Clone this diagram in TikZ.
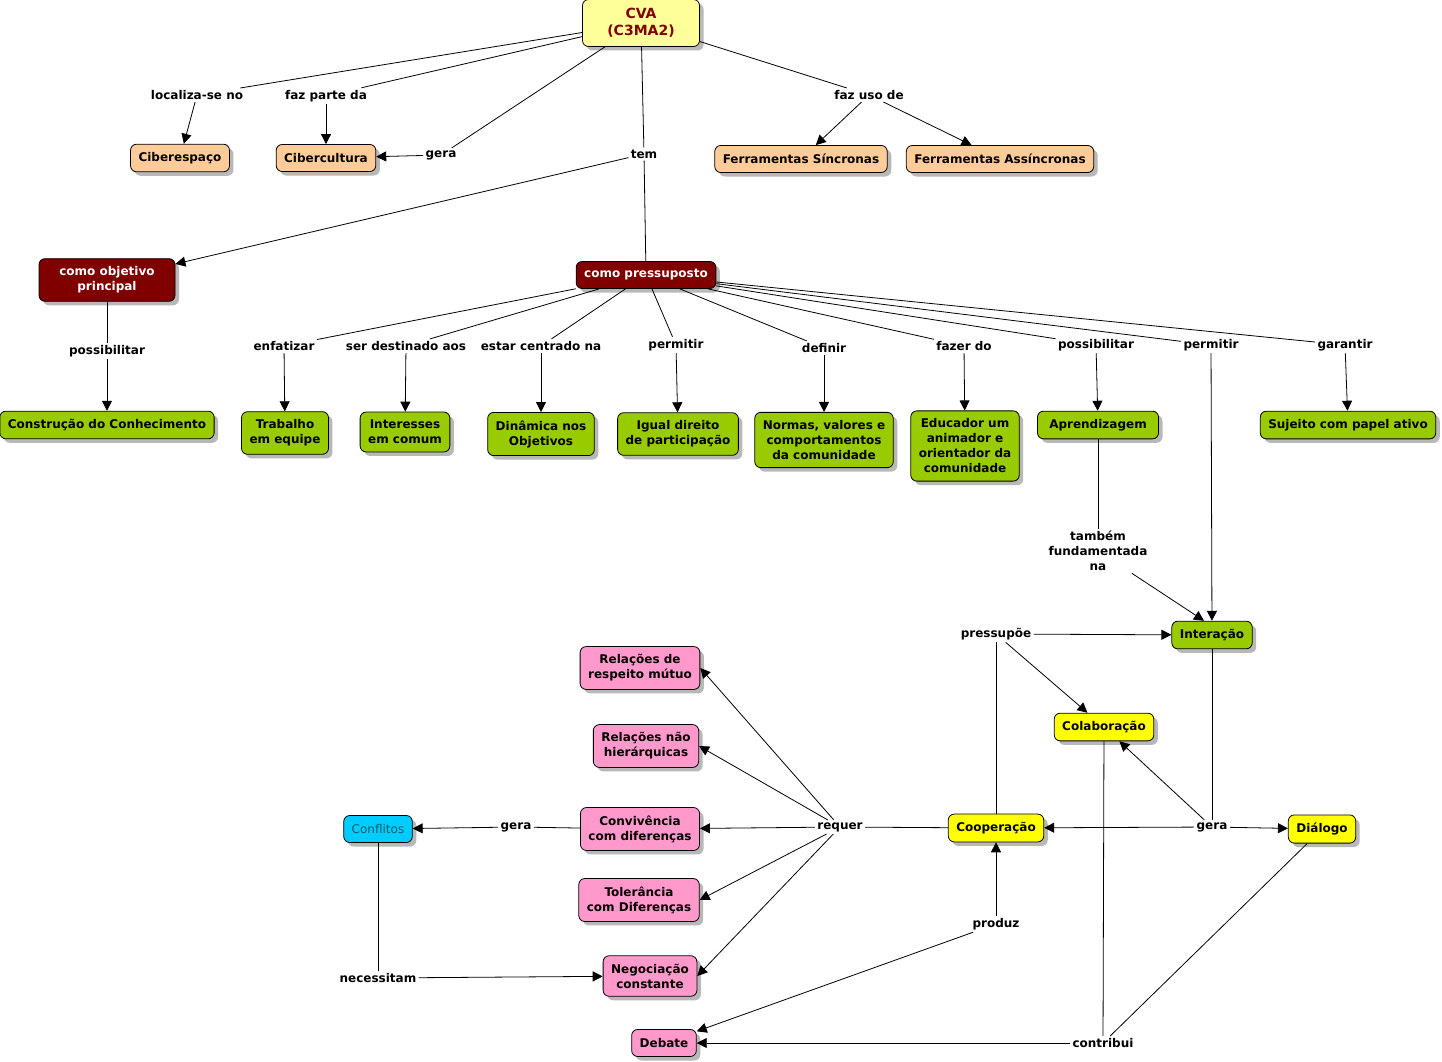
\documentclass[tikz,border=0pt]{standalone}
\usepackage{fontspec}
\setmainfont{DejaVu Sans}
\usetikzlibrary{arrows.meta,shadows}

\definecolor{cvafill}{HTML}{FFFF99}
\definecolor{darkred}{HTML}{800000}
\definecolor{peach}{HTML}{FFCC99}
\definecolor{leaf}{HTML}{99CC00}
\definecolor{lemon}{HTML}{FFFF00}
\definecolor{rosa}{HTML}{FF99CC}
\definecolor{ciano}{HTML}{00CCFF}
\definecolor{petrol}{HTML}{0A5F68}

\tikzset{
	concept/.style={draw, rounded corners=6pt, align=center, inner xsep=8pt, inner ysep=8pt,
		minimum height=27pt, font={\fontsize{12}{15}\selectfont\bfseries},
		drop shadow={shadow xshift=4pt, shadow yshift=-4pt, fill=black!28, opacity=1}},
	link/.style={inner sep=2pt, align=center, font={\fontsize{12}{15}\selectfont\bfseries}},
}

\begin{document}
\begin{tikzpicture}[x=1pt, y=-1pt, line width=0.8pt, >={Triangle[length=10pt,width=10pt]}]
		\useasboundingbox (0,0) rectangle (1442,1062);

		\node[concept, fill=cvafill, text=darkred, minimum width=117pt, minimum height=47pt,
			font={\fontsize{14}{17}\selectfont\bfseries}] (cva) at (641,23) {CVA\\(C3MA2)};
		\node[concept, fill=peach] (ciberesp) at (180,158) {Ciberespaço};
		\node[concept, fill=peach] (cibercult) at (326,158) {Cibercultura};
		\node[concept, fill=peach] (fsinc) at (801,159) {Ferramentas Síncronas};
		\node[concept, fill=peach] (fassinc) at (1000,159) {Ferramentas Assíncronas};
		\node[concept, fill=darkred, text=white, minimum width=136pt] (objetivo) at (107,280) {como objetivo\\principal};
		\node[concept, fill=darkred, text=white] (pressuposto) at (646,275) {como pressuposto};
		\node[concept, fill=leaf] (construcao) at (107,425) {Construção do Conhecimento};
		\node[concept, fill=leaf] (trabalho) at (285,433) {Trabalho\\em equipe};
		\node[concept, fill=leaf] (interesses) at (405,432) {Interesses\\em comum};
		\node[concept, fill=leaf] (dinamica) at (541,434) {Dinâmica nos\\Objetivos};
		\node[concept, fill=leaf] (igual) at (678,434) {Igual direito\\de participação};
		\node[concept, fill=leaf] (normas) at (824,440) {Normas, valores e\\comportamentos\\da comunidade};
		\node[concept, fill=leaf] (educador) at (965,446) {Educador um\\animador e\\orientador da\\comunidade};
		\node[concept, fill=leaf, minimum width=121pt] (aprend) at (1098,425) {Aprendizagem};
		\node[concept, fill=leaf] (sujeito) at (1348,425) {Sujeito com papel ativo};
		\node[concept, fill=leaf] (interacao) at (1212,635) {Interação};
		\node[concept, fill=lemon] (colab) at (1104,727) {Colaboração};
		\node[concept, fill=lemon] (coop) at (996,828) {Cooperação};
		\node[concept, fill=lemon] (dialogo) at (1322,829) {Diálogo};
		\node[concept, fill=rosa] (respeito) at (640,668) {Relações de\\respeito mútuo};
		\node[concept, fill=rosa] (naohier) at (646,746) {Relações não\\hierárquicas};
		\node[concept, fill=rosa] (conviv) at (640,829) {Convivência\\com diferenças};
		\node[concept, fill=rosa] (toler) at (639,900) {Tolerância\\com Diferenças};
		\node[concept, fill=rosa] (negoc) at (650,976) {Negociação\\constante};
		\node[concept, fill=rosa] (debate) at (664,1043) {Debate};
		\node[concept, fill=ciano, text=petrol, font={\fontsize{12}{15}\selectfont}] (conflitos) at (378,829) {Conflitos};

		\node[link] (localiza) at (197,95) {localiza-se no};
		\node[link] (fazparte) at (326,96) {faz parte da};
		\node[link] (gera1) at (441,155) {gera};
		\node[link] (tem) at (644,154) {tem};
		\node[link] (fazuso) at (869,95) {faz uso de};
		\node[link] (possib1) at (107,351) {possibilitar};
		\node[link] (enfat) at (284,346) {enfatizar};
		\node[link] (destin) at (406,346) {ser destinado aos};
		\node[link] (centrado) at (541,346) {estar centrado na};
		\node[link] (permitir1) at (676,345) {permitir};
		\node[link] (definir) at (824,348) {definir};
		\node[link] (fazerdo) at (964,346) {fazer do};
		\node[link] (possib2) at (1096,345) {possibilitar};
		\node[link] (permitir2) at (1211,345) {permitir};
		\node[link] (garantir) at (1345,345) {garantir};
		\node[link] (tambem) at (1098,551) {também\\fundamentada\\na};
		\node[link] (pressupoe) at (996,634) {pressupõe};
		\node[link] (gera2) at (1212,827) {gera};
		\node[link] (requer) at (840,827) {requer};
		\node[link] (gera3) at (516,827) {gera};
		\node[link] (necessitam) at (378,978) {necessitam};
		\node[link] (produz) at (996,924) {produz};
		\node[link] (contribui) at (1103,1043) {contribui};

		\draw (cva) -- (localiza);
		\draw[->] (localiza) -- (ciberesp);
		\draw (cva) -- (fazparte);
		\draw[->] (fazparte) -- (cibercult);
		\draw (cva) -- (gera1);
		\draw[->] (gera1) -- (cibercult);
		\draw (cva) -- (tem);
		\draw[->] (tem) -- (objetivo);
		\draw (tem) -- (pressuposto);
		\draw (cva) -- (fazuso);
		\draw[->] (fazuso) -- (fsinc);
		\draw[->] (fazuso) -- (fassinc);

		\draw (objetivo) -- (possib1);
		\draw[->] (possib1) -- (construcao);

		\draw (pressuposto) -- (enfat);
		\draw[->] (enfat) -- (trabalho);
		\draw (pressuposto) -- (destin);
		\draw[->] (destin) -- (interesses);
		\draw (pressuposto) -- (centrado);
		\draw[->] (centrado) -- (dinamica);
		\draw (pressuposto) -- (permitir1);
		\draw[->] (permitir1) -- (igual);
		\draw (pressuposto) -- (definir);
		\draw[->] (definir) -- (normas);
		\draw (pressuposto) -- (fazerdo);
		\draw[->] (fazerdo) -- (educador);
		\draw (pressuposto) -- (possib2);
		\draw[->] (possib2) -- (aprend);
		\draw (pressuposto) -- (permitir2);
		\draw[->] (permitir2) -- (interacao);
		\draw (pressuposto) -- (garantir);
		\draw[->] (garantir) -- (sujeito);

		\draw (aprend) -- (tambem);
		\draw[->] (tambem) -- ([xshift=-8pt]interacao.north);
		\draw (coop) -- (pressupoe);
		\draw[->] (pressupoe) -- (interacao);
		\draw[->] (pressupoe) -- (colab);
		\draw (interacao) -- (gera2);
		\draw[->] (gera2) -- (coop);
		\draw[->] (gera2) -- (colab);
		\draw[->] (gera2) -- (dialogo);

		\draw (coop) -- (requer);
		\draw[->] (requer) -- (respeito.east);
		\draw[->] (requer) -- (naohier.east);
		\draw[->] (requer) -- (conviv);
		\draw[->] (requer) -- (toler.east);
		\draw[->] (requer) -- (negoc.east);
		\draw (conviv) -- (gera3);
		\draw[->] (gera3) -- (conflitos);
		\draw (conflitos) -- (necessitam);
		\draw[->] (necessitam) -- (negoc);

		\draw[->] (produz) -- (coop);
		\draw[->] (produz) -- (debate);
		\draw (colab) -- (contribui);
		\draw (dialogo) -- (contribui);
		\draw[->] (contribui) -- (debate);
	\end{tikzpicture}
\end{document}
